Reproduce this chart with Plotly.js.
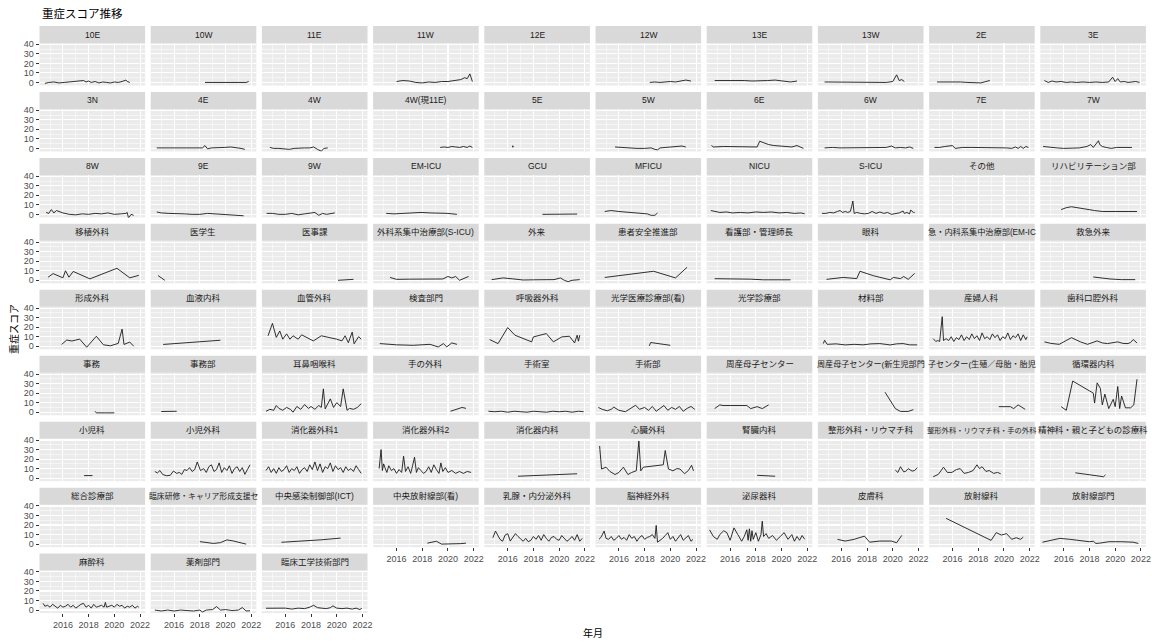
<!DOCTYPE html>
<html><head><meta charset="utf-8">
<script src="https://cdn.plot.ly/plotly-3.0.1.min.js"></script>
<style>html,body{margin:0;padding:0;background:#fff}#chart{width:1152px;height:644px}</style>
</head><body><div id="chart"></div>
<script>
// ---- data ----
const panelNames = ["10E","10W","11E","11W","12E","12W","13E","13W","2E","3E",
"3N","4E","4W","4W(現11E)","5E","5W","6E","6W","7E","7W",
"8W","9E","9W","EM-ICU","GCU","MFICU","NICU","S-ICU","その他","リハビリテーション部",
"移植外科","医学生","医事課","外科系集中治療部(S-ICU)","外来","患者安全推進部","看護部・管理師長","眼科","救急・内科系集中治療部(EM-ICU)","救急外来",
"形成外科","血液内科","血管外科","検査部門","呼吸器外科","光学医療診療部(看)","光学診療部","材料部","産婦人科","歯科口腔外科",
"事務","事務部","耳鼻咽喉科","手の外科","手術室","手術部","周産母子センター","周産母子センター(新生児部門)","周産母子センター(生殖／母胎・胎児)","循環器内科",
"小児科","小児外科","消化器外科1","消化器外科2","消化器内科","心臓外科","腎臓内科","整形外科・リウマチ科","整形外科・リウマチ科・手の外科","精神科・親と子どもの診療科",
"総合診療部","臨床研修・キャリア形成支援センター","中央感染制御部(ICT)","中央放射線部(看)","乳腺・内分泌外科","脳神経外科","泌尿器科","皮膚科","放射線科","放射線部門",
"麻酔科","薬剤部門","臨床工学技術部門"];

// strip text as visible in the reference (long labels are clipped by the strip)
const stripText = panelNames.slice();
stripText[38] = "急・内科系集中治療部(EM-IC";
stripText[57] = "周産母子センター(新生児部門";
stripText[58] = "子センター(生殖／母胎・胎児";
stripText[71] = "臨床研修・キャリア形成支援セ";

const seriesX = [
[2014.6,2014.9,2015.3,2015.7,2016.1,2016.5,2016.9,2017.3,2017.6,2017.8,2018.0,2018.2,2018.5,2018.8,2019.1,2019.4,2019.7,2020.0,2020.3,2020.6,2020.9,2021.0,2021.2],
[2018.4,2018.8,2019.2,2019.6,2020.0,2020.4,2020.8,2021.2,2021.6,2021.8],
[],
[2016.0,2016.5,2017.0,2017.5,2018.0,2018.5,2019.0,2019.5,2020.0,2020.5,2021.0,2021.3,2021.5,2021.7,2021.9],
[],
[2018.4,2018.8,2019.2,2019.6,2020.0,2020.4,2020.8,2021.2,2021.6],
[2014.8,2015.3,2015.9,2016.5,2017.1,2017.7,2018.3,2018.9,2019.5,2020.1,2020.7,2021.2],
[2014.7,2015.3,2015.9,2016.5,2017.1,2017.7,2018.3,2018.9,2019.5,2020.0,2020.3,2020.5,2020.7,2020.9],
[2014.8,2015.4,2016.0,2016.6,2017.2,2017.8,2018.2,2018.6,2018.9],
[2014.5,2014.8,2015.1,2015.4,2015.8,2016.2,2016.6,2017.0,2017.5,2018.0,2018.5,2019.0,2019.5,2019.8,2020.0,2020.2,2020.4,2020.7,2021.0,2021.3,2021.6,2021.9],
[],
[2014.65,2015.2,2015.8,2016.4,2017.0,2017.6,2018.2,2018.4,2018.6,2018.9,2019.4,2019.9,2020.4,2020.9,2021.2,2021.5],
[2014.8,2015.1,2015.5,2015.9,2016.3,2016.7,2017.1,2017.5,2017.9,2018.2,2018.5,2018.8,2019.0,2019.3],
[2019.4,2019.7,2020.0,2020.3,2020.6,2020.9,2021.2,2021.5,2021.7,2021.9],
[2016.4],
[2015.7,2016.2,2016.8,2017.4,2018.0,2018.5,2018.8,2019.0,2019.2,2019.6,2020.0,2020.5,2020.9,2021.2],
[2014.55,2014.7,2015.5,2016.5,2017.5,2018.1,2018.3,2018.6,2019.0,2019.4,2019.9,2020.4,2020.8,2021.2,2021.5,2021.7],
[2014.7,2015.3,2015.9,2016.5,2017.1,2017.7,2018.3,2018.9,2019.5,2019.9,2020.2,2020.6,2021.0,2021.3,2021.6],
[2014.6,2015.0,2015.4,2015.8,2016.0,2016.2,2016.8,2017.5,2018.2,2018.9,2019.6,2020.2,2020.6,2020.9,2021.1,2021.3,2021.5,2021.7,2021.9],
[2014.4,2014.9,2015.5,2016.0,2016.6,2017.2,2017.8,2018.1,2018.3,2018.5,2018.7,2018.8,2019.0,2019.3,2019.7,2020.1,2020.6,2021.0,2021.3],
[2014.7,2014.9,2015.1,2015.3,2015.5,2015.7,2016.0,2016.5,2017.0,2017.5,2018.0,2018.5,2019.0,2019.5,2020.0,2020.5,2020.9,2021.0,2021.1,2021.3,2021.5],
[2014.65,2015.0,2015.6,2016.2,2016.8,2017.4,2018.0,2018.6,2019.2,2019.8,2020.4,2021.0,2021.4],
[2014.55,2015.0,2015.5,2016.0,2016.5,2017.0,2017.5,2018.0,2018.3,2018.6,2018.9,2019.2,2019.5,2019.85],
[2015.2,2015.8,2016.5,2017.2,2017.9,2018.6,2019.3,2020.0,2020.7],
[2018.7,2019.4,2020.1,2020.8,2021.4],
[2014.9,2015.4,2016.0,2016.6,2017.2,2017.8,2018.2,2018.5,2018.8,2019.0],
[2014.5,2014.8,2015.2,2015.7,2016.2,2016.8,2017.4,2018.0,2018.6,2019.2,2019.8,2020.4,2021.0,2021.5,2021.8],
[2014.5,2014.8,2015.1,2015.4,2015.7,2015.9,2016.1,2016.3,2016.5,2016.7,2016.8,2016.9,2017.0,2017.2,2017.5,2017.8,2018.1,2018.4,2018.7,2019.0,2019.3,2019.6,2019.9,2020.2,2020.5,2020.8,2020.9,2021.1,2021.3,2021.4,2021.6,2021.7],
[],
[2015.8,2016.2,2016.6,2017.2,2017.8,2018.4,2019.0,2019.6,2020.2,2020.8,2021.2,2021.7],
[2014.85,2015.24,2016.0,2016.2,2016.47,2016.8,2018.1,2020.2,2021.2,2021.9],
[2014.75,2015.28],
[2020.1,2020.6,2021.3],
[2015.5,2016.0,2017.0,2018.0,2019.0,2019.6,2020.0,2020.3,2020.6,2020.9,2021.6],
[2014.75,2015.65,2016.4,2017.2,2018.0,2019.0,2019.6,2020.1,2020.4,2020.7,2021.0,2021.6],
[2014.9,2016.8,2018.7,2020.4,2021.3],
[2014.8,2015.8,2016.8,2017.6,2018.6,2019.6,2020.7],
[2014.85,2016.15,2017.2,2017.45,2018.5,2019.8,2020.05,2020.6,2020.85,2021.2,2021.7],
[],
[2018.3,2019.0,2019.6,2020.5,2021.56],
[2015.9,2016.3,2016.7,2017.3,2017.85,2018.6,2019.15,2019.7,2020.3,2020.6,2020.75,2021.2,2021.5],
[2015.15,2019.6],
[2014.66,2015.0,2015.3,2015.57,2015.8,2016.1,2016.36,2016.6,2017.0,2017.27,2018.18,2018.8,2020.0,2020.4,2020.65,2020.9,2021.2,2021.35,2021.7,2021.9],
[2014.7,2016.0,2017.3,2018.6,2019.25,2019.65,2019.9,2020.3,2020.7],
[2014.6,2015.25,2016.0,2016.56,2017.86,2018.0,2019.0,2019.55,2020.2,2020.8,2021.2,2021.4,2021.5,2021.6],
[2018.36,2018.47,2020.0],
[],
[2014.6,2014.7,2014.9,2015.6,2016.3,2017.0,2017.7,2018.3,2019.0,2019.4,2019.8,2020.3,2020.8,2021.3,2021.9],
[2014.5,2014.7,2014.85,2015.0,2015.2,2015.3,2015.5,2015.7,2015.9,2016.1,2016.3,2016.5,2016.7,2016.9,2017.1,2017.3,2017.5,2017.7,2017.9,2018.1,2018.3,2018.5,2018.7,2018.9,2019.1,2019.3,2019.5,2019.7,2019.9,2020.1,2020.3,2020.5,2020.7,2020.9,2021.1,2021.3,2021.5,2021.7,2021.8],
[2014.5,2015.0,2015.65,2016.1,2016.6,2017.3,2017.85,2018.6,2019.0,2019.4,2019.8,2020.2,2020.6,2021.0,2021.2,2021.4,2021.7],
[2018.5,2018.6,2019.3,2020.0],
[2015.0,2015.6,2016.2],
[2014.5,2014.8,2015.1,2015.3,2015.5,2015.8,2016.1,2016.4,2016.6,2016.9,2017.2,2017.5,2017.8,2018.0,2018.3,2018.6,2018.8,2018.96,2019.1,2019.3,2019.5,2019.75,2020.0,2020.3,2020.5,2020.8,2021.0,2021.3,2021.6,2021.9],
[2020.2,2020.6,2021.1,2021.4],
[2014.5,2015.0,2015.5,2016.0,2016.5,2017.0,2017.5,2018.0,2018.5,2019.0,2019.5,2020.0,2020.5,2021.0,2021.5,2021.9],
[2014.4,2014.7,2015.1,2015.4,2015.6,2016.0,2016.5,2016.9,2017.3,2017.6,2018.0,2018.3,2018.6,2018.9,2019.2,2019.5,2019.8,2020.1,2020.4,2020.7,2021.0,2021.3,2021.6,2021.9],
[2014.8,2015.2,2015.45,2016.0,2016.6,2017.3,2017.6,2018.1,2018.5,2019.0],
[2019.4,2020.2,2020.6,2021.2,2021.6],
[2019.6,2020.5,2020.75,2021.1,2021.65],
[2015.8,2016.2,2016.7,2018.3,2018.4,2018.6,2018.85,2019.0,2019.2,2019.5,2019.85,2020.0,2020.2,2020.35,2020.5,2020.8,2021.2,2021.45,2021.7],
[2017.65,2018.3],
[2014.5,2014.7,2014.9,2015.1,2015.4,2015.7,2015.95,2016.2,2016.4,2016.6,2016.8,2017.0,2017.2,2017.4,2017.6,2017.8,2018.05,2018.3,2018.5,2018.7,2018.9,2019.1,2019.3,2019.5,2019.7,2019.9,2020.1,2020.3,2020.5,2020.7,2020.9,2021.1,2021.3,2021.5,2021.7,2021.9],
[2014.5,2014.7,2014.9,2015.1,2015.3,2015.5,2015.7,2015.9,2016.1,2016.3,2016.5,2016.7,2016.9,2017.1,2017.3,2017.5,2017.7,2017.9,2018.1,2018.3,2018.5,2018.7,2018.9,2019.1,2019.3,2019.5,2019.7,2019.9,2020.1,2020.3,2020.5,2020.7,2020.9,2021.1,2021.3,2021.5,2021.7,2021.9],
[2014.65,2014.8,2014.9,2015.0,2015.1,2015.25,2015.4,2015.6,2015.8,2016.0,2016.2,2016.4,2016.55,2016.7,2016.9,2017.1,2017.25,2017.4,2017.55,2017.7,2017.9,2018.1,2018.3,2018.5,2018.7,2018.9,2019.1,2019.3,2019.45,2019.6,2019.8,2020.0,2020.3,2020.6,2020.9,2021.2,2021.5,2021.8],
[2016.8,2018.0,2019.2,2020.4,2021.4],
[2014.5,2014.65,2015.0,2015.3,2015.7,2016.0,2016.35,2016.7,2017.0,2017.35,2017.55,2017.7,2017.9,2018.3,2018.8,2019.45,2019.6,2019.85,2020.2,2020.5,2020.75,2021.1,2021.4,2021.65,2021.8],
[2018.1,2018.8,2019.5],
[2020.2,2020.4,2020.6,2020.85,2021.0,2021.2,2021.5,2021.7,2021.9],
[2014.5,2014.9,2015.3,2015.6,2015.95,2016.3,2016.6,2016.9,2017.25,2017.6,2017.9,2018.1,2018.3,2018.6,2018.85,2019.2,2019.5,2019.75],
[2016.9,2017.6,2018.3,2019.1,2019.25],
[],
[2018.0,2018.5,2019.05,2019.6,2020.1,2020.6,2021.1,2021.6],
[2015.7,2017.2,2018.8,2020.3],
[2018.4,2019.1,2019.5,2020.0,2020.5,2021.0,2021.4],
[2014.85,2015.05,2015.4,2015.6,2015.8,2016.0,2016.2,2016.4,2016.6,2016.8,2017.0,2017.2,2017.4,2017.6,2017.8,2018.0,2018.2,2018.4,2018.6,2018.8,2019.0,2019.2,2019.4,2019.6,2019.8,2020.0,2020.2,2020.4,2020.6,2020.8,2021.0,2021.2,2021.4,2021.6,2021.8],
[2014.45,2014.6,2014.85,2015.0,2015.2,2015.4,2015.6,2015.8,2016.0,2016.2,2016.4,2016.6,2016.8,2017.0,2017.2,2017.4,2017.6,2017.8,2018.0,2018.2,2018.4,2018.6,2018.8,2018.9,2019.0,2019.2,2019.4,2019.6,2019.8,2020.0,2020.2,2020.4,2020.6,2020.8,2021.0,2021.2,2021.4,2021.6,2021.76],
[2014.4,2014.7,2015.0,2015.2,2015.5,2015.75,2016.0,2016.3,2016.6,2016.9,2017.1,2017.3,2017.4,2017.5,2017.6,2017.7,2017.8,2018.0,2018.2,2018.4,2018.5,2018.6,2018.8,2019.0,2019.3,2019.6,2019.9,2020.2,2020.5,2020.8,2021.0,2021.2,2021.4,2021.6,2021.8],
[2015.7,2016.3,2017.0,2017.8,2018.2,2019.0,2019.9,2020.3,2020.7],
[2015.5,2019.0,2019.4,2019.8,2020.2,2020.6,2020.95,2021.3,2021.5],
[2014.35,2015.0,2015.7,2016.5,2017.2,2018.0,2018.3,2018.5,2018.8,2019.5,2020.5,2021.4,2021.8],
[2014.46,2014.6,2014.8,2015.0,2015.2,2015.4,2015.6,2015.8,2016.0,2016.2,2016.4,2016.6,2016.8,2017.0,2017.2,2017.4,2017.6,2017.8,2018.0,2018.2,2018.4,2018.6,2018.8,2019.0,2019.2,2019.3,2019.4,2019.6,2019.8,2020.0,2020.2,2020.4,2020.6,2020.8,2021.0,2021.2,2021.4,2021.6,2021.8,2021.9],
[2014.5,2015.0,2015.5,2016.0,2016.5,2017.0,2017.5,2018.0,2018.2,2018.5,2019.0,2019.3,2019.6,2020.0,2020.5,2021.0,2021.3,2021.6,2021.9],
[2014.5,2015.0,2015.5,2016.0,2016.5,2017.0,2017.5,2017.9,2018.2,2018.5,2018.8,2019.2,2019.5,2019.7,2020.0,2020.4,2020.8,2021.2,2021.5,2021.8,2021.95]
];

const seriesY = [
[-1,0,0.5,-0.5,0,0.5,1,1.5,2,0.5,1.5,0,1,-0.5,0.5,0,-0.5,0.5,0,1,2.5,1,0],
[0,0,-0.3,-0.5,-0.5,-0.5,-0.5,-0.3,0,1],
[],
[1,2,1.5,0,-0.5,0.5,0,1,1,2,3,5,4,9,1],
[],
[0,0.5,0,0.5,1,0.5,1.5,2.5,1.5],
[2,2,2.5,2,2,1.5,1.5,2,2.5,1.5,0.5,1.5],
[0.5,0.5,0,0.5,0,0.5,0,0.5,0,1,8,2,3,1],
[0.5,0.5,1,0.5,0,0,-0.5,1,2],
[2,0,1.5,0.5,1,0,0.5,0,0.5,0,0.5,0,0.5,5.5,1,4,0.5,1,0,0.5,1,0],
[],
[0.5,0.5,0,0,0,0.5,0.5,3,-0.5,0.5,0.5,1,1.5,1,0,-1],
[1,0,0,-0.5,-1,0,0.5,0.5,0.5,1.5,-1,-3,0,0.5],
[1,1.5,1,2,1.5,1,2,1,2.5,1],
[2],
[1.5,1,0.5,0,0,0.5,-1,-1.5,0.5,1,1.5,1.5,2.5,1.5],
[3,1.5,2,2,1.5,1.5,7.5,6,4,3,2.5,2,1.5,3,1,0],
[0.5,1,0.5,0.5,1,0.5,1,0.5,1,2.5,0.5,1,0.5,1.5,0],
[1,1,2,2.5,3,0,1,1,1,1,1,0.5,0,1.5,0,2,0,2,1],
[2,1,0.5,0,0,0.5,2,4,1,5,8,4,2,1,0,1,1,1,1],
[2,1,5,1.5,4,3,1.5,0,-0.5,0.5,0,1,0.5,1.5,0,0.5,1,2,-4,0,-1],
[2.5,1.5,1,1,0.5,0,0,1,0.5,0,-0.5,-0.5,-1.5],
[1,1,0,0,1,-0.5,0.5,1,2,-1,1,0,1,1.5],
[1,0.5,1,1.5,2,1.5,1.5,1,0],
[0,0,0,0.3,0.3],
[3,4,3,2.5,2,1.5,0.5,-1,-1,1.5],
[4,3,2,2.5,1.5,2,1.5,2.5,2,2.5,1.5,2,1,1.5,0.5],
[1,1,2,1.5,3,4,2,3,2,3,8,14,1,2,1,0.5,1,3,1,2.5,1,2,0,1,1.5,3.5,1,2,0.5,4.5,2,2],
[],
[5,7,8,6.5,5,4,3,3,3,3,3,3],
[3.3,7,2.6,10,3.3,9.3,1.5,12.6,2.6,5.2],
[5,0],
[0,0.5,1],
[3,1,1.2,1.2,1.2,1.4,4,2.5,4,0,4],
[0.7,2.5,1.5,0.3,0.5,0.7,0.7,2.5,0,-1.4,0,0.7],
[3,6.3,9.5,2.5,13.7],
[1.7,1.7,1.5,1.2,0.5,0.5,0.5],
[1,3,1.8,9.5,4.8,0.5,3,1.8,4,1,7.2],
[],
[3.5,2,1.4,0.7,0.7],
[1.9,6.5,5.5,7.5,-1,10.5,1.5,0.5,3,18,1.9,4.4,0],
[1.9,6.3],
[11,24,9.3,16,7.4,13,7.4,11,7.4,12,5.6,11,7.4,5.6,11,3.7,14.8,2.6,10,7.4],
[2.8,1.5,1,2,-0.7,2.8,-0.7,3.5,2],
[7,2.8,19.6,11.6,4.6,9.8,13.3,4.6,9.8,10.5,3.5,11.6,5.3,11.6],
[0.4,3.9,1],
[],
[2.8,6.3,2,2.5,1.4,2,1.5,2.5,2.8,2,1.4,2.5,2.8,1.5,1.4],
[8,5,6,5,31,6,8,6,10,5,9,7,12,6,10,7,13,8,11,6,14,8,10,7,13,9,12,6,10,8,14,7,11,9,13,6,12,7,10],
[4.6,3,2,5,9,4.6,2,5.6,3.5,2.8,4,4.6,3,2.8,4,7,3.5],
[1,-0.7,-0.7,-0.7],
[0.7,1,1],
[1,3,2,7,4,2,5,3,0,6,3,8,4,6,3,7,5,24.5,3.5,8,14,5,10,6,24.5,2,4,3,5,9],
[1,2.5,5,4],
[1,0.5,1,0,1,0.5,0,1,0.5,0,1,0.5,1,0,1,0.5],
[5,3,1.5,3,5.3,2,0.5,4,7.3,3,5,2,6,1,4,7,2,5,3,6,1,4,6,3],
[3.8,7.7,7,7,6.5,7,3.8,5.8,3.8,7.7],
[21,3.8,0.8,0.8,2.7],
[5.8,5.8,3.8,7.7,3],
[5.8,2,32.7,20,9.6,30.8,25,7.7,19,3.8,13.5,5.8,27,3.8,17,4.6,4.6,7.7,34.6],
[2.7,2.7],
[7,5.5,8,4,2.5,3,7.5,5,6,4,9,8,11,7,9,17,8,10,6,12,14,7,9,16,6,11,8,13,5,10,12,7,11,4,9,14],
[8,12,6,10,5,11,7,9,13,6,10,8,12,5,9,11,7,14,9,17,8,15,6,12,10,16,7,13,9,11,6,12,8,10,7,13,9,5],
[10,30,8,15,11,6,13,8,10,5,9,6,23,7,12,5,13,22,6,11,8,5,7,12,6,14,9,5,16,7,11,6,8,5,7,5,7,6],
[2,2.5,3,3.5,4.6],
[33.8,9.6,11.5,7,3.8,6,11.5,3.8,6,7.7,39,7.7,11.5,12,13,14,29,9.6,7.7,10,9.6,4.6,8,13.5,7.7],
[3,2.5,2],
[8.4,6,12,6.7,7,10,7.4,8,11],
[1.5,4,11.5,6,6,9,10,5,6,8,14,10,12,7,8,5,6,4.6],
[5.6,4.5,3.5,1.5,3.5],
[],
[2.6,2,0.7,1.5,4.4,3.3,1.9,0],
[1.9,3,4.5,6.3],
[1,3,0,0,0,0.5,1],
[6.7,13.7,5,3,9.5,10.9,3.2,7,11,8,5,3,6,2.5,4,8,5,9,4,10,6,3,7,8,5,4,9,6,3,5,8,4,10,3,6],
[5,7,13.7,6,5,8,4,6,9,5,7,4,10,6,8,3,7,9,5,7,8,10,6,19.6,2,4,6,9,12,5,8,3,6,10,4,7,9,3,5],
[15,8,5,10,14,12,4,17,10,3,8,15,4,16,3,14,5,12,3,10,24,8,11,6,9,4,8,12,5,10,3,8,4,9,5],
[5,3.2,5,8.4,2,3.2,3.2,1.4,9.1],
[27,3.9,12,9.5,11,5,6.7,5,7.4],
[2,4,6,5,3.9,2.5,3,0.7,1,2.5,2.5,2,0.7],
[7,4,5,3,6,4,2,5,3,4,6,3,5,2,4,6,7,3,5,2,6,3,4,5,3,8,3,4,5,3,6,4,5,2,4,3,5,2,4,3],
[0,-1,0,-1,0,-0.5,-1,0,-2,0,0.5,3.7,0,0.5,-0.5,0,2.6,-1,-0.7],
[1.9,2,1.5,2,1,2,1.5,3,5,2.5,2,1.5,2.5,4.4,2,1.5,2,1,2,0.5,1.9]
];

const xMajorTicks = [2016, 2018, 2020, 2022];
const xMinorTicks = [2015, 2017, 2019, 2021];
const yMajorTicks = [0, 10, 20, 30, 40];
const yMinorTicks = [5, 15, 25, 35];
const chartTitle = "重症スコア推移";
const xTitle = "年月";
const yTitle = "重症スコア";

// ---- layout ----
const W = 1152, H = 644, NC = 10;
const colLeft = 39.5, colPitch = 111.2, panelW = 105.6;
const rowTop = 26, rowPitch = 65.95, stripH = 17, panelH = 42.5;
const fontFam = "Liberation Sans, Noto Sans CJK JP, sans-serif";

const layout = {
  width: W, height: H, margin: {l:0, r:0, t:0, b:0},
  paper_bgcolor: '#FFFFFF', plot_bgcolor: '#EBEBEB', showlegend: false,
  font: {family: fontFam, size: 9, color: '#4D4D4D'},
  shapes: [], annotations: []
};
const traces = [];
const n = panelNames.length;

function emWidth(s) {
  let w = 0;
  for (const ch of s) w += (ch.charCodeAt(0) < 256) ? 0.56 : 1;
  return w;
}

for (let i = 0; i < n; i++) {
  const r = Math.floor(i / NC), c = i % NC;
  const x0 = colLeft + c * colPitch, x1 = x0 + panelW;
  const sTop = rowTop + r * rowPitch, pTop = sTop + stripH, pBot = pTop + panelH;
  const k = i === 0 ? '' : String(i + 1);
  const isLeft = c === 0;
  const isBottom = (i + NC >= n);

  layout['xaxis' + k] = {
    domain: [x0 / W, x1 / W], range: [2014.18, 2022.39], anchor: 'y' + k,
    tickmode: 'array', tickvals: xMajorTicks, ticktext: xMajorTicks.map(String),
    showticklabels: isBottom, ticks: isBottom ? 'outside' : '', ticklen: 3, tickwidth: 1, tickcolor: '#333333',
    showgrid: true, gridcolor: '#FFFFFF', gridwidth: 1.1,
    minor: {tickmode: 'array', tickvals: xMinorTicks, showgrid: true, gridcolor: '#FFFFFF', gridwidth: 0.5, ticks: ''},
    zeroline: false, showline: false, fixedrange: true,
    tickfont: {family: fontFam, size: 9, color: '#4D4D4D'}
  };
  layout['yaxis' + k] = {
    domain: [1 - pBot / H, 1 - pTop / H], range: [-3.2, 41.4], anchor: 'x' + k,
    tickmode: 'array', tickvals: yMajorTicks, ticktext: yMajorTicks.map(String),
    showticklabels: isLeft, ticks: isLeft ? 'outside' : '', ticklen: 3, tickwidth: 1, tickcolor: '#333333',
    showgrid: true, gridcolor: '#FFFFFF', gridwidth: 1.1,
    minor: {tickmode: 'array', tickvals: yMinorTicks, showgrid: true, gridcolor: '#FFFFFF', gridwidth: 0.5, ticks: ''},
    zeroline: false, showline: false, fixedrange: true,
    tickfont: {family: fontFam, size: 9, color: '#4D4D4D'}
  };

  layout.shapes.push({
    type: 'rect', xref: 'paper', yref: 'paper',
    x0: x0 / W, x1: x1 / W, y0: 1 - pTop / H, y1: 1 - sTop / H,
    fillcolor: '#D9D9D9', line: {width: 0}, layer: 'below'
  });
  const label = stripText[i];
  const ew = emWidth(label);
  let fs = 8.5;
  if (ew * fs > panelW + 4) fs = (panelW + 4) / ew;
  layout.annotations.push({
    xref: 'paper', yref: 'paper', x: (x0 + x1) / 2 / W, y: 1 - (sTop + stripH / 2) / H,
    text: label, showarrow: false, xanchor: 'center', yanchor: 'middle',
    font: {family: fontFam, size: fs, color: '#1A1A1A'}
  });

  const xs = seriesX[i], ys = seriesY[i];
  traces.push({
    type: 'scatter', mode: xs.length === 1 ? 'markers' : 'lines',
    x: xs, y: ys, xaxis: 'x' + k, yaxis: 'y' + k,
    line: {color: '#1A1A1A', width: 0.9}, marker: {color: '#333333', size: 1.8},
    hoverinfo: 'skip'
  });
}

layout.annotations.push({
  xref: 'paper', yref: 'paper', x: 40 / W, y: 1 - 14 / H, xanchor: 'left', yanchor: 'middle',
  text: chartTitle, showarrow: false, font: {family: fontFam, size: 11.5, color: '#000000'}
});
layout.annotations.push({
  xref: 'paper', yref: 'paper', x: 592.7 / W, y: 1 - 633 / H, xanchor: 'center', yanchor: 'middle',
  text: xTitle, showarrow: false, font: {family: fontFam, size: 10, color: '#000000'}
});
layout.annotations.push({
  xref: 'paper', yref: 'paper', x: 14 / W, y: 1 - 329 / H, xanchor: 'center', yanchor: 'middle',
  text: yTitle, textangle: -90, showarrow: false, font: {family: fontFam, size: 10, color: '#000000'}
});

Plotly.newPlot('chart', traces, layout, {displayModeBar: false, staticPlot: true});
</script>
</body></html>
